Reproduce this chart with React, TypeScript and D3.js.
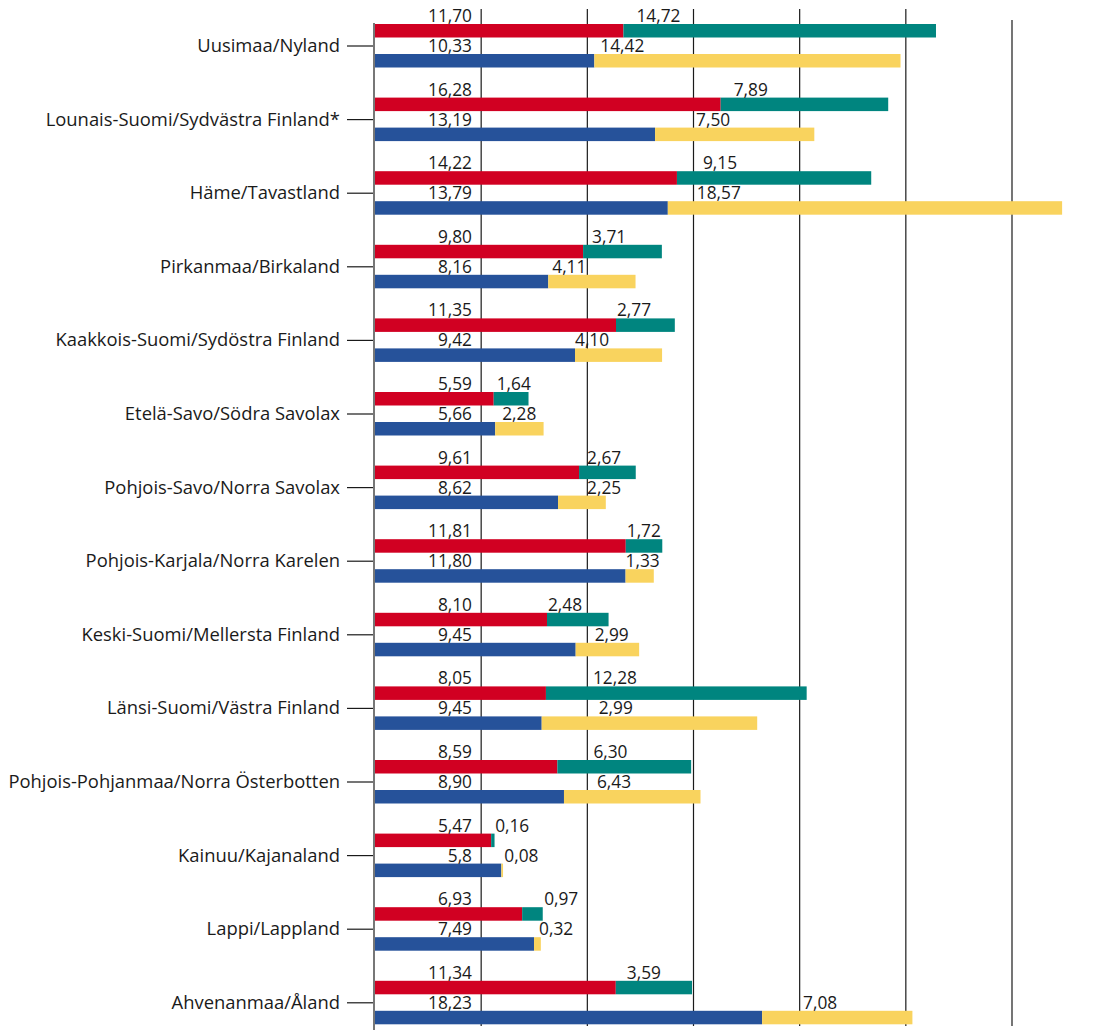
import React, { useEffect, useRef } from 'react';
import * as d3 from 'd3';

const categories = [
    'Uusimaa/Nyland',
    'Lounais-Suomi/Sydvästra Finland*',
    'Häme/Tavastland',
    'Pirkanmaa/Birkaland',
    'Kaakkois-Suomi/Sydöstra Finland',
    'Etelä-Savo/Södra Savolax',
    'Pohjois-Savo/Norra Savolax',
    'Pohjois-Karjala/Norra Karelen',
    'Keski-Suomi/Mellersta Finland',
    'Länsi-Suomi/Västra Finland',
    'Pohjois-Pohjanmaa/Norra Österbotten',
    'Kainuu/Kajanaland',
    'Lappi/Lappland',
    'Ahvenanmaa/Åland'
];

// bar lengths
const redValues = [11.70, 16.28, 14.22, 9.80, 11.35, 5.59, 9.61, 11.81, 8.10, 8.05, 8.59, 5.47, 6.93, 11.34];
const tealValues = [14.72, 7.89, 9.15, 3.71, 2.77, 1.64, 2.67, 1.72, 2.90, 12.28, 6.30, 0.16, 0.97, 3.59];
const blueValues = [10.33, 13.19, 13.79, 8.16, 9.42, 5.66, 8.62, 11.80, 9.45, 7.85, 8.90, 5.95, 7.49, 18.23];
const yellowValues = [14.42, 7.50, 18.57, 4.11, 4.10, 2.28, 2.25, 1.33, 2.99, 10.15, 6.43, 0.08, 0.32, 7.08];

// printed labels (some differ from the bars in the original)
const redLabels = ['11,70', '16,28', '14,22', '9,80', '11,35', '5,59', '9,61', '11,81', '8,10', '8,05', '8,59', '5,47', '6,93', '11,34'];
const tealLabels = ['14,72', '7,89', '9,15', '3,71', '2,77', '1,64', '2,67', '1,72', '2,48', '12,28', '6,30', '0,16', '0,97', '3,59'];
const blueLabels = ['10,33', '13,19', '13,79', '8,16', '9,42', '5,66', '8,62', '11,80', '9,45', '9,45', '8,90', '5,8', '7,49', '18,23'];
const yellowLabels = ['14,42', '7,50', '18,57', '4,11', '4,10', '2,28', '2,25', '1,33', '2,99', '2,99', '6,43', '0,08', '0,32', '7,08'];

const gridValues = [5, 10, 15, 20, 25, 30];

// label nudges in px from segment start (hand placed in the original)
const tealNudge = [13, 13, 26, 9, 1, 3, 8, 1, 1, 47, 36, 4, 22, 11];
const yellowNudge = [6, 41, 29, 4, 0, 7, 29, 0, 19, 57, 33, 3, 5, 41];

const COLORS = { red: '#d10022', teal: '#00857f', blue: '#26529a', yellow: '#f9d35e' };

const App: React.FC = () => {
    const svgRef = useRef<SVGSVGElement>(null);
    const width = 1111;
    const height = 1030;

    useEffect(() => {
        if (!svgRef.current) return;
        const svg = d3.select(svgRef.current);
        svg.selectAll('*').remove();

        const x = d3.scaleLinear().domain([0, 30]).range([375, 1012]);
        const y = d3.scaleBand<string>()
            .domain(categories)
            .range([24, 24 + 73.6 * categories.length])
            .padding(0);

        const barH = 13.5;
        const blueOff = 30;
        const tickOff = 22;
        const font = '"Open Sans", sans-serif';

        // gridlines
        svg.append('g')
            .selectAll('line')
            .data(gridValues)
            .enter()
            .append('line')
            .attr('x1', d => x(d))
            .attr('x2', d => x(d))
            .attr('y1', d => (d === 30 ? 20 : 9))
            .attr('y2', 1026)
            .attr('stroke', '#1a1a1a')
            .attr('stroke-width', 1.2);

        const rows = svg.append('g')
            .selectAll('.row')
            .data(categories)
            .enter()
            .append('g')
            .attr('class', 'row')
            .attr('transform', d => `translate(0,${y(d)})`);

        // top bar: red + teal
        rows.append('rect')
            .attr('x', 374)
            .attr('y', 0)
            .attr('width', (d, i) => x(redValues[i]) - 374)
            .attr('height', barH)
            .attr('fill', COLORS.red);
        rows.append('rect')
            .attr('x', (d, i) => x(redValues[i]))
            .attr('y', 0)
            .attr('width', (d, i) => x(redValues[i] + tealValues[i]) - x(redValues[i]))
            .attr('height', barH)
            .attr('fill', COLORS.teal);

        // bottom bar: blue + yellow
        rows.append('rect')
            .attr('x', 374)
            .attr('y', blueOff)
            .attr('width', (d, i) => x(blueValues[i]) - 374)
            .attr('height', barH)
            .attr('fill', COLORS.blue);
        rows.append('rect')
            .attr('x', (d, i) => x(blueValues[i]))
            .attr('y', blueOff)
            .attr('width', (d, i) => x(blueValues[i] + yellowValues[i]) - x(blueValues[i]))
            .attr('height', barH)
            .attr('fill', COLORS.yellow);

        // value labels
        const label = (sel: any) => sel
            .attr('font-family', font)
            .attr('font-size', '17.3px')
            .attr('fill', '#1a1a1a');

        rows.append('text')
            .attr('x', 472)
            .attr('y', -2)
            .attr('text-anchor', 'end')
            .text((d, i) => redLabels[i])
            .call(label);
        rows.append('text')
            .attr('x', 472)
            .attr('y', blueOff - 2)
            .attr('text-anchor', 'end')
            .text((d, i) => blueLabels[i])
            .call(label);
        rows.append('text')
            .attr('x', (d, i) => x(redValues[i]) + tealNudge[i])
            .attr('y', -2)
            .text((d, i) => tealLabels[i])
            .call(label);
        rows.append('text')
            .attr('x', (d, i) => x(blueValues[i]) + yellowNudge[i])
            .attr('y', blueOff - 2)
            .text((d, i) => yellowLabels[i])
            .call(label);

        // category ticks and names
        rows.append('line')
            .attr('x1', 347)
            .attr('x2', 373)
            .attr('y1', tickOff)
            .attr('y2', tickOff)
            .attr('stroke', '#1a1a1a')
            .attr('stroke-width', 1.2);
        rows.append('text')
            .attr('x', 340)
            .attr('y', tickOff + 6)
            .attr('text-anchor', 'end')
            .attr('font-family', font)
            .attr('font-size', '18.4px')
            .attr('fill', '#1a1a1a')
            .text(d => d);

        // left axis
        svg.append('line')
            .attr('x1', 374)
            .attr('x2', 374)
            .attr('y1', 23)
            .attr('y2', height)
            .attr('stroke', '#777')
            .attr('stroke-width', 2);
    }, []);

    return (
        <svg
            ref={svgRef}
            width={width}
            height={height}
            style={{ position: 'absolute', left: 0, top: 0, background: '#fff' }}
        />
    );
};

export default App;
